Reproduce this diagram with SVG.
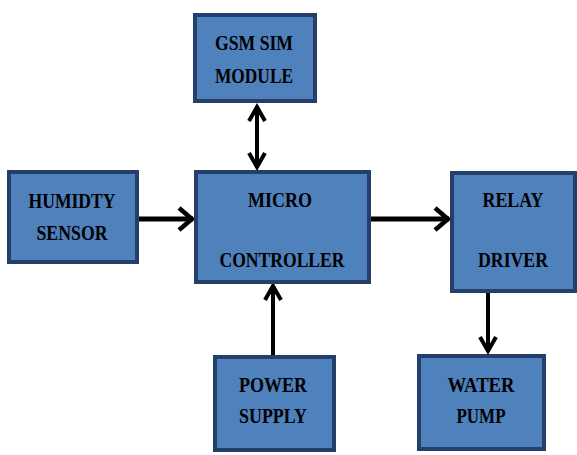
<svg xmlns="http://www.w3.org/2000/svg" width="577" height="455" viewBox="0 0 577 455">
<style>
.box{fill:#4f81bd;stroke:#24406a;stroke-width:4}
.lbl{font-family:"Liberation Serif","Times New Roman",serif;font-weight:bold;font-size:20px;fill:#000;text-anchor:middle}
.con{stroke:#000;fill:none;stroke-linecap:butt}
</style>
<defs>
<marker id="big" markerUnits="userSpaceOnUse" markerWidth="30" markerHeight="30" orient="auto" overflow="visible">
<path d="M-14,-11 L-1,0 L-14,11" fill="none" stroke="#000" stroke-width="4.5"/>
</marker>
<marker id="small" markerUnits="userSpaceOnUse" markerWidth="30" markerHeight="30" orient="auto-start-reverse" overflow="visible">
<path d="M-15,-8 L-1,0 L-15,8" fill="none" stroke="#000" stroke-width="4"/>
</marker>
</defs>
<rect width="577" height="455" fill="#fff"/>
<g id="connectors">
<line class="con" x1="257" y1="106" x2="257" y2="168" stroke-width="4" marker-start="url(#small)" marker-end="url(#small)"/>
<line class="con" x1="138" y1="219" x2="193" y2="219" stroke-width="5" marker-end="url(#big)"/>
<line class="con" x1="370" y1="219" x2="449" y2="219" stroke-width="5" marker-end="url(#big)"/>
<line class="con" x1="273" y1="355" x2="273" y2="285" stroke-width="4" marker-end="url(#small)"/>
<line class="con" x1="488" y1="292" x2="488" y2="352" stroke-width="4" marker-end="url(#small)"/>
</g>
<g id="gsm">
<rect class="box" x="195" y="15" width="120" height="86"/>
<text class="lbl" x="254" y="50" textLength="78" lengthAdjust="spacingAndGlyphs">GSM SIM</text>
<text class="lbl" x="254" y="83" textLength="78" lengthAdjust="spacingAndGlyphs">MODULE</text>
</g>
<g id="humidity">
<rect class="box" x="9" y="172" width="128" height="90"/>
<text class="lbl" x="72" y="208" textLength="87" lengthAdjust="spacingAndGlyphs">HUMIDTY</text>
<text class="lbl" x="72" y="240" textLength="71" lengthAdjust="spacingAndGlyphs">SENSOR</text>
</g>
<g id="micro">
<rect class="box" x="196" y="172" width="173" height="110"/>
<text class="lbl" x="280" y="207" textLength="64" lengthAdjust="spacingAndGlyphs">MICRO</text>
<text class="lbl" x="282" y="267" textLength="125" lengthAdjust="spacingAndGlyphs">CONTROLLER</text>
</g>
<g id="relay">
<rect class="box" x="452" y="173" width="123" height="118"/>
<text class="lbl" x="513" y="207" textLength="61" lengthAdjust="spacingAndGlyphs">RELAY</text>
<text class="lbl" x="513" y="267" textLength="70" lengthAdjust="spacingAndGlyphs">DRIVER</text>
</g>
<g id="pump">
<rect class="box" x="419" y="356" width="125" height="93"/>
<text class="lbl" x="481" y="392" textLength="67" lengthAdjust="spacingAndGlyphs">WATER</text>
<text class="lbl" x="481" y="423" textLength="49" lengthAdjust="spacingAndGlyphs">PUMP</text>
</g>
<g id="power">
<rect class="box" x="215" y="357" width="119" height="93"/>
<text class="lbl" x="273" y="392" textLength="68" lengthAdjust="spacingAndGlyphs">POWER</text>
<text class="lbl" x="273" y="423" textLength="68" lengthAdjust="spacingAndGlyphs">SUPPLY</text>
</g>
</svg>
